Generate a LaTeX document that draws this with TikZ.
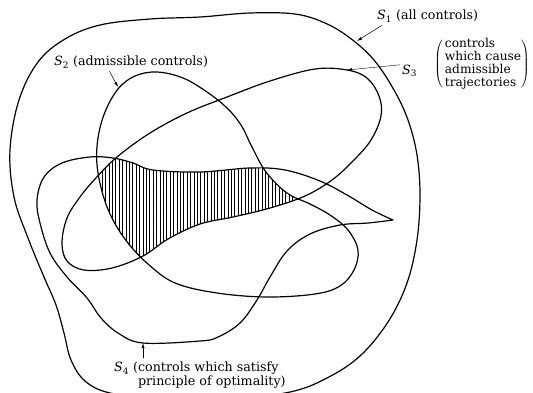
\documentclass[tikz,border=0pt]{standalone}
\usepackage{fontspec}
\setmainfont{DejaVu Serif}
\usetikzlibrary{arrows.meta,calc,patterns.meta}

\newcommand{\setS}[1]{\textit{S}\textsubscript{#1}}

\begin{document}
\begin{tikzpicture}[
    x=1pt, y=-1pt,
    >={Latex[length=5pt,width=3pt]},
    line cap=round,
    line join=round,
    font=\fontsize{12.7}{12.4}\selectfont,
    setline/.style={line width=1.2pt},
    leader/.style={->, line width=0.5pt},
    lbl/.style={inner sep=0pt}
]

\useasboundingbox (0,0) rectangle (533,392);
\clip (0,0) rectangle (533,392);

% Set boundaries
\def\pathSone{plot[smooth cycle, tension=0.6] coordinates {
    (100,25) (150,19) (200,17) (250,13) (295,14) (325,23) (350,38)
    (374,60) (394,90) (408,120) (417,155) (420,195) (417,240) (407,283)
    (388,322) (360,356) (327,378) (290,392) (230,399) (160,399) (110,393)
    (85,381) (71,360) (64,333) (56,305) (44,277) (28,238) (14,197)
    (10,150) (19,100) (38,62) (65,39)}}
\def\pathStwo{plot[smooth cycle, tension=0.6] coordinates {
    (157,72) (183,78) (207,92) (227,108) (241,125) (252,147) (266,172)
    (287,193) (310,204) (330,215) (348,230) (358,250) (354,270) (340,286)
    (315,294) (267,297) (217,293) (175,283) (148,264) (128,243) (113,220)
    (103,195) (97,165) (98,138) (105,112) (118,89) (135,76)}}
\def\pathSthree{plot[smooth cycle, tension=0.6] coordinates {
    (347,70) (367,78) (379,96) (381,116) (371,140) (353,161) (332,180)
    (305,196) (270,208) (233,217) (200,224) (168,239) (143,256) (112,268)
    (84,270) (67,261) (62,243) (67,218) (80,197) (95,179) (117,157)
    (150,133) (187,113) (227,97) (270,81) (315,69)}}
\def\pathSfour{plot[smooth, tension=0.6] coordinates {
    (393,220) (372,210) (347,195) (320,181) (285,170) (250,168) (200,172)
    (153,170) (133,163) (113,158) (90,157) (62,163) (44,177) (37,200)
    (40,223) (50,253) (67,277) (87,298) (101,318) (118,333) (143,343)
    (200,341) (218,337) (240,323) (257,300) (270,277) (287,251) (310,234)
    (340,225) (368,223) (393,220)} -- cycle}

% Hatched intersection
\begin{scope}
    \clip \pathStwo;
    \clip \pathSthree;
    \fill[pattern={Lines[angle=90,distance=3.4pt,line width=0.6pt]}] \pathSfour;
\end{scope}

\draw[setline] \pathSone;
\draw[setline] \pathStwo;
\draw[setline] \pathSthree;
\draw[setline] \pathSfour;

% Labels
\node[lbl, anchor=west] (sonelbl) at (377,16) {\setS{1} (all controls)};
\node[lbl, anchor=west] (stwolbl) at (54,62) {\setS{2} (admissible controls)};
\node[lbl, anchor=west] (sthreelbl) at (402,71) {\setS{3}};
\node[lbl, anchor=west, font=\fontsize{12.2}{12.4}\selectfont] (sthreetext) at (434,64)
    {$\left(\,\begin{tabular}{@{}l@{}}controls\\which cause\\admissible\\trajectories\end{tabular}\right)$};
\node[lbl, anchor=north west, align=left] (sfourlbl) at (114,362)
    {\setS{4} (controls which satisfy\\\phantom{\setS{4} (}principle of optimality)};

% Leaders
\coordinate (sonetip) at (357,41);
\coordinate (stwotip) at (118,87);
\coordinate (sthreetip) at (347,70);
\coordinate (sfourtip) at (143,343);

\draw[leader] ([xshift=5pt,yshift=-3pt]sonelbl.south west) -- (sonetip);
\draw[leader] ($(stwolbl.south west)!0.36!(stwolbl.south east)+(0,3)$) -- (stwotip);
\draw[leader, line width=0.4pt] ([xshift=-2pt]sthreelbl.north west) -- (sthreetip);
\draw[leader] ($(sfourtip |- sfourlbl.north)+(0,-4)$) -- (sfourtip);

\end{tikzpicture}
\end{document}
